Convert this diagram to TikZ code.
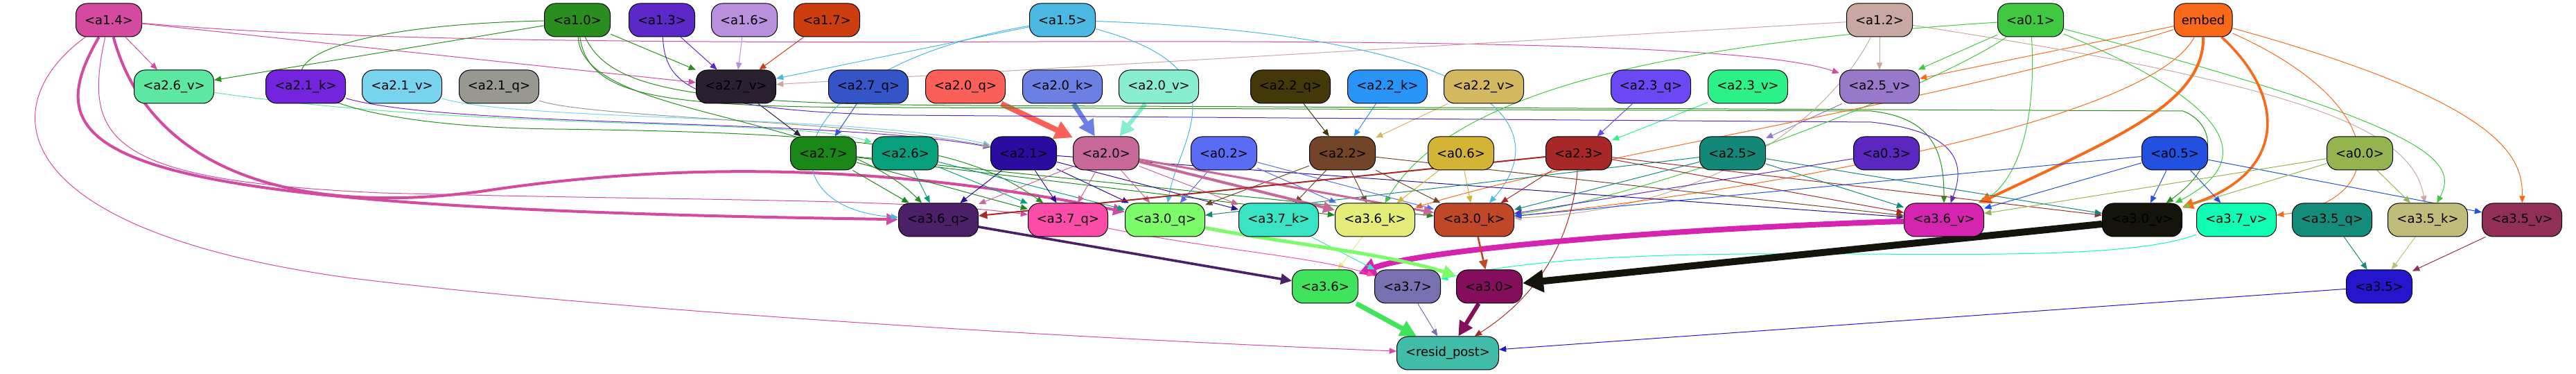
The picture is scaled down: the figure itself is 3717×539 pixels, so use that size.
\documentclass[tikz,border=0pt]{standalone}
\usepackage{fontspec}
\setmainfont{DejaVu Sans}
\usetikzlibrary{arrows.meta,positioning,backgrounds}
\definecolor{a14}{HTML}{D44AA0}
\definecolor{a10}{HTML}{2A8E1E}
\definecolor{a13}{HTML}{5C28C8}
\definecolor{a16}{HTML}{B890DD}
\definecolor{a17}{HTML}{CC3E10}
\definecolor{a15}{HTML}{4AB8E0}
\definecolor{a12}{HTML}{C8A8A0}
\definecolor{a01}{HTML}{40C840}
\definecolor{embed}{HTML}{F86A1A}
\definecolor{a26v}{HTML}{5CE8A0}
\definecolor{a21k}{HTML}{7424DC}
\definecolor{a21v}{HTML}{78D4EE}
\definecolor{a21q}{HTML}{989890}
\definecolor{a27v}{HTML}{2A2030}
\definecolor{a27q}{HTML}{3454C8}
\definecolor{a20q}{HTML}{FA6058}
\definecolor{a20k}{HTML}{6C80E4}
\definecolor{a20v}{HTML}{88EED0}
\definecolor{a22q}{HTML}{443808}
\definecolor{a22k}{HTML}{2894F8}
\definecolor{a22v}{HTML}{D4B860}
\definecolor{a23q}{HTML}{6C48F4}
\definecolor{a23v}{HTML}{2CF088}
\definecolor{a25v}{HTML}{9878C8}
\definecolor{a27}{HTML}{1A8818}
\definecolor{a26}{HTML}{08A07C}
\definecolor{a21}{HTML}{2C0CA0}
\definecolor{a20}{HTML}{C86898}
\definecolor{a02}{HTML}{5A6CF4}
\definecolor{a22}{HTML}{724428}
\definecolor{a06}{HTML}{D4B434}
\definecolor{a23}{HTML}{A82828}
\definecolor{a25}{HTML}{148878}
\definecolor{a03}{HTML}{5A28C0}
\definecolor{a05}{HTML}{2250E0}
\definecolor{a00}{HTML}{94B450}
\definecolor{a36q}{HTML}{4C2068}
\definecolor{a37q}{HTML}{FA4CA8}
\definecolor{a30q}{HTML}{7CFC68}
\definecolor{a37k}{HTML}{38E4C4}
\definecolor{a36k}{HTML}{E4EC78}
\definecolor{a30k}{HTML}{C04828}
\definecolor{a36v}{HTML}{D424B0}
\definecolor{a30v}{HTML}{14140C}
\definecolor{a37v}{HTML}{10FCB4}
\definecolor{a35q}{HTML}{148C7C}
\definecolor{a35k}{HTML}{C0BC7C}
\definecolor{a35v}{HTML}{903058}
\definecolor{a36}{HTML}{40E45C}
\definecolor{a37}{HTML}{7870B0}
\definecolor{a30}{HTML}{840E5C}
\definecolor{a35}{HTML}{2416CC}
\definecolor{resid}{HTML}{40BCA8}
\tikzset{
  blk/.style={draw=black, line width=0.5pt, rounded corners=8pt, minimum height=24pt,
    inner sep=0pt, font=\fontsize{9}{10}\selectfont},
  ln/.style={draw=#1, line width=0.5pt, -{Triangle[length=4pt 2.2, width=3pt 2.5]}},
}

\begin{document}
\begin{tikzpicture}[x=0.5pt,y=-0.5pt]
\useasboundingbox (0,0) rectangle (3717,539);

% row 1
\foreach \n/\x/\t/\w in {a14/157/<a1.4>/47.5, a10/833/<a1.0>/47.5, a13/955/<a1.3>/47.5,
    a16/1074/<a1.6>/47.5, a17/1193/<a1.7>/47.5, a15/1533/<a1.5>/47.5, a12/2712/<a1.2>/47.5,
    a01/2930/<a0.1>/47.5, embed/3179/embed/42}
  \node[blk, fill=\n, minimum width=\w pt] (\n) at (\x,29) {\t};
% row 2
\foreach \n/\x/\t in {a26v/251/<a2.6\_v>, a21k/441/<a2.1\_k>, a21v/580/<a2.1\_v>,
    a21q/720/<a2.1\_q>, a27v/1062/<a2.7\_v>, a27q/1253/<a2.7\_q>, a20q/1393/<a2.0\_q>,
    a20k/1533/<a2.0\_k>, a20v/1672/<a2.0\_v>, a22q/1862/<a2.2\_q>, a22k/2002/<a2.2\_k>,
    a22v/2141/<a2.2\_v>, a23q/2382/<a2.3\_q>, a23v/2522/<a2.3\_v>, a25v/2712/<a2.5\_v>}
  \node[blk, fill=\n, minimum width=57.5pt] (\n) at (\x,125) {\t};
% row 3
\foreach \n/\x/\t in {a27/1188/<a2.7>, a26/1306/<a2.6>, a21/1477/<a2.1>, a20/1596/<a2.0>,
    a02/1766/<a0.2>, a22/1937/<a2.2>, a06/2108/<a0.6>, a23/2278/<a2.3>, a25/2500/<a2.5>,
    a03/2722/<a0.3>, a05/3138/<a0.5>, a00/3405/<a0.0>}
  \node[blk, fill=\n, minimum width=47.5pt] (\n) at (\x,221) {\t};
% row 4
\foreach \n/\x/\t in {a36q/1354/<a3.6\_q>, a37q/1541/<a3.7\_q>, a30q/1681/<a3.0\_q>,
    a37k/1845/<a3.7\_k>, a36k/1984/<a3.6\_k>, a30k/2127/<a3.0\_k>, a36v/2805/<a3.6\_v>,
    a30v/3091/<a3.0\_v>, a37v/3227/<a3.7\_v>, a35q/3365/<a3.5\_q>, a35k/3503/<a3.5\_k>,
    a35v/3639/<a3.5\_v>}
  \node[blk, fill=\n, minimum width=57.5pt] (\n) at (\x,317) {\t};
% row 5
\foreach \n/\x/\t in {a36/1912/<a3.6>, a37/2031/<a3.7>, a30/2149/<a3.0>, a35/3433/<a3.5>}
  \node[blk, fill=\n, minimum width=47.5pt] (\n) at (\x,413) {\t};
\node[blk, fill=resid, minimum width=73.5pt] (resid) at (2089,509) {<resid\_post>};

\begin{pgfonlayer}{background}
% row 1 -> row 2
\draw[ln=a14] (a14) -- (a26v);
\draw[ln=a14] (a14) -- (a27v);
\draw[ln=a14] (a14) .. controls (500,60) and (1000,62) .. (1500,60) .. controls (2200,58) and (2550,70) .. (a25v);
\draw[ln=a10] (a10) -- (a26v);
\draw[ln=a10] (a10) -- (a27v);
\draw[ln=a13] (a13) -- (a27v);
\draw[ln=a16] (a16) -- (a27v);
\draw[ln=a17] (a17) -- (a27v);
\draw[ln=a15] (a15) -- (a27v);
\draw[ln=a12] (a12) -- (a27v);
\draw[ln=a12] (a12) -- (a25v);
\draw[ln=a01] (a01) -- (a25v);
\draw[ln=embed] (embed) -- (a25v);

% row 2 -> row 3
\draw[ln=a26v] (a26v) .. controls (700,190) and (1150,170) .. (a26);
\draw[ln=a21k] (a21k) .. controls (650,185) and (1200,170) .. (a21);
\draw[ln=a21v] (a21v) .. controls (750,175) and (1250,165) .. (a21);
\draw[ln=a21q] (a21q) .. controls (850,170) and (1250,175) .. (a21);
\draw[ln=a27v] (a27v) -- (a27);
\draw[ln=a27q] (a27q) -- (a27);
\draw[ln=a20q, line width=4pt] (a20q) -- (a20);
\draw[ln=a20k, line width=3.5pt] (a20k) -- (a20);
\draw[ln=a20v, line width=3pt] (a20v) -- (a20);
\draw[ln=a22q] (a22q) -- (a22);
\draw[ln=a22k] (a22k) -- (a22);
\draw[ln=a22v] (a22v) -- (a22);
\draw[ln=a23q] (a23q) -- (a23);
\draw[ln=a23v] (a23v) -- (a23);
\draw[ln=a25v] (a25v) -- (a25);

% row 1 -> row 4 and below
\draw[ln=a14, line width=2pt] (a14) .. controls (40,230) and (150,300) .. (a36q);
\draw[ln=a14, line width=2pt] (a14) .. controls (220,260) and (450,310) .. (700,275) .. controls (1000,230) and (1300,240) .. (a30q);
\draw[ln=a14] (a14) .. controls (120,200) and (150,260) .. (550,278) .. controls (1000,290) and (1300,285) .. (a37q);
\draw[ln=a14] (a14) .. controls (-10,150) and (0,330) .. (500,400) .. controls (900,450) and (1600,490) .. (resid);
\draw[ln=a10] (a10) .. controls (300,40) and (330,180) .. (800,186) .. controls (1300,192) and (1400,220) .. (a37q);
\draw[ln=a10] (a10) .. controls (840,170) and (1200,160) .. (a36q);
\draw[ln=a10] (a10) .. controls (850,140) and (950,155) .. (1300,155) -- (2700,160) .. controls (2790,170) and (2805,220) .. (a36v);
\draw[ln=a10] (a10) .. controls (880,130) and (1000,150) .. (1400,152) -- (3150,160) .. controls (3200,180) and (3200,240) .. (a30v);
\draw[ln=a13] (a13) .. controls (960,120) and (990,160) .. (1300,166) -- (2700,176) .. controls (2830,190) and (2835,240) .. (a36v);
\draw[ln=a15] (a15) .. controls (1120,100) and (1100,300) .. (a36q);
\draw[ln=a15] (a15) .. controls (1800,100) and (1700,200) .. (a30q);
\draw[ln=a15] (a15) .. controls (2150,50) and (2250,180) .. (a30k);
\draw[ln=a12] (a12) .. controls (3300,120) and (3480,180) .. (a35k);
\draw[ln=a12] (a12) .. controls (2650,150) and (2500,300) .. (a30k);
\draw[ln=a01] (a01) .. controls (2450,60) and (2100,120) .. (a36k);
\draw[ln=a01] (a01) .. controls (2800,120) and (2400,280) .. (a30k);
\draw[ln=a01] (a01) .. controls (2940,200) and (2900,270) .. (a36v);
\draw[ln=a01] (a01) .. controls (3220,150) and (3260,230) .. (a30v);
\draw[ln=a01] (a01) .. controls (3500,180) and (3550,230) .. (a35k);
\draw[ln=embed, line width=2pt] (embed) .. controls (3180,150) and (3050,200) .. (a36v);
\draw[ln=embed, line width=1.8pt] (embed) .. controls (3300,140) and (3300,250) .. (a30v);
\draw[ln=embed] (embed) .. controls (3100,180) and (2500,280) .. (a30k);
\draw[ln=embed] (embed) .. controls (2800,150) and (2300,220) .. (a36k);
\draw[ln=embed] (embed) .. controls (3450,150) and (3450,290) .. (a37v);
\draw[ln=embed] (embed) .. controls (3620,150) and (3640,230) .. (a35v);

% row 3 -> row 4
\foreach \s/\d in {a27/a36q, a27/a37q, a27/a36k, a27/a30k,
    a26/a36q, a26/a37q, a26/a30q,
    a21/a36q, a21/a37q, a21/a30q, a21/a37k, a21/a36v,
    a20/a36q, a20/a37q, a20/a30q, a20/a37k,
    a02/a30q, a02/a36k, a02/a30k,
    a22/a30q, a22/a37k, a22/a36k, a22/a30k, a22/a36v,
    a06/a36k, a06/a30k,
    a23/a30k, a23/a36v, a23/a30v,
    a25/a30q, a25/a30k, a25/a36v, a25/a30v,
    a03/a30k,
    a05/a30k, a05/a36v, a05/a30v, a05/a37v, a05/a35v,
    a00/a36v, a00/a30v, a00/a35k}
  \draw[ln=\s] (\s) -- (\d);
\draw[ln=a20, line width=2pt] (a20) -- (a36k);
\draw[ln=a20, line width=1.5pt] (a20) -- (a30k);
\draw[ln=a23, line width=1pt] (a23) -- (a36q);
\draw[ln=a23] (a23) .. controls (2270,330) and (2230,420) .. (resid);

% row 4 -> row 5
\draw[ln=a36q, line width=1.8pt] (a36q) -- (a36);
\draw[ln=a36k] (a36k) -- (a36);
\draw[ln=a36v, line width=4pt] (a36v) .. controls (2400,330) and (2050,360) .. (a36);
\draw[ln=a37q] (a37q) .. controls (1750,360) and (1900,370) .. (a37);
\draw[ln=a37k] (a37k) -- (a37);
\draw[ln=a37v] (a37v) .. controls (3000,400) and (2400,330) .. (a37);
\draw[ln=a30q, line width=2.5pt] (a30q) .. controls (1850,350) and (2000,365) .. (a30);
\draw[ln=a30k, line width=1.3pt] (a30k) -- (a30);
\draw[ln=a30v, line width=5pt] (a30v) -- (a30);
\draw[ln=a35q] (a35q) -- (a35);
\draw[ln=a35k] (a35k) -- (a35);
\draw[ln=a35v] (a35v) -- (a35);

% row 5 -> resid_post
\draw[ln=a36, line width=3.5pt] (a36) -- (resid);
\draw[ln=a37] (a37) -- (resid);
\draw[ln=a30, line width=3pt] (a30) -- (resid);
\draw[ln=a35] (a35) -- (resid);
\end{pgfonlayer}
\end{tikzpicture}
\end{document}
